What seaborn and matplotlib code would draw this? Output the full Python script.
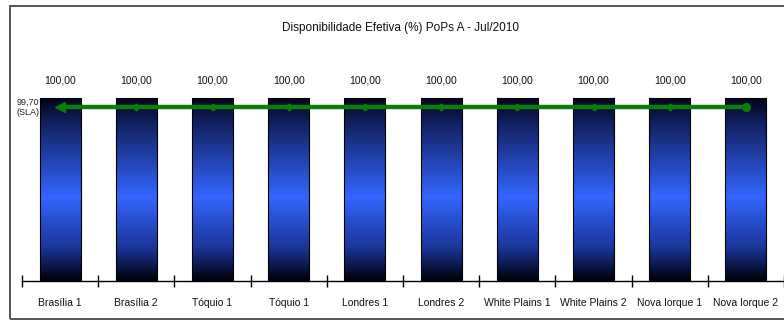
import numpy as np
import pandas as pd
import matplotlib
matplotlib.use("Agg")
import matplotlib.pyplot as plt
from matplotlib.colors import LinearSegmentedColormap
from matplotlib.patches import Rectangle
import seaborn as sns

# Availability per PoP (%) and SLA target
pops = ["Brasília 1", "Brasília 2", "Tóquio 1", "Tóquio 1", "Londres 1",
        "Londres 2", "White Plains 1", "White Plains 2", "Nova Iorque 1", "Nova Iorque 2"]
disponibilidade = [100.00, 100.00, 100.00, 100.00, 100.00,
                   100.00, 100.00, 100.00, 100.00, 100.00]
sla = [99.70] * len(pops)
titulo = "Disponibilidade Efetiva (%) PoPs A - Jul/2010"

sns.set_theme(style="white")
plt.rcParams["font.family"] = ["Liberation Sans", "DejaVu Sans"]

W, H, DPI = 784, 323, 100
fig = plt.figure(figsize=(W / DPI, H / DPI), dpi=DPI)
fig.patch.set_facecolor("white")

# outer chart frame
fig.add_artist(Rectangle((10 / W, 1 - 319 / H), 800 / W, 313 / H, transform=fig.transFigure,
                         fill=False, edgecolor="#555555", linewidth=1.4))

# plot area: x-axis at y=281 px, from x=22 px to the right edge
ax_left, ax_right = 22, 784
ax_top, ax_bot = 45, 281
ax = fig.add_axes([ax_left / W, 1 - ax_bot / H, (ax_right - ax_left) / W, (ax_bot - ax_top) / H])

df = pd.DataFrame({"pop": range(len(pops)), "disp": disponibilidade})
sns.barplot(data=df, x="pop", y="disp", ax=ax, width=0.54, color="#2a55dd",
            edgecolor="black", linewidth=0.8)

ymin = 94.0
step = 76.4  # px per category
ax.set_xlim(-0.5, -0.5 + (ax_right - ax_left) / step)
ax.set_ylim(ymin, 100 + (98 - ax_top) / (ax_bot - 98) * (100 - ymin))

# vertical gradient fill inside each bar: dark edges, bright blue centre
cmap = LinearSegmentedColormap.from_list(
    "barra", [(0.0, "#02041a"), (0.15, "#122466"), (0.54, "#3366ff"),
              (0.82, "#1a3597"), (1.0, "#000008")])
grad = np.linspace(0, 1, 256).reshape(-1, 1)
for patch in list(ax.patches):
    x0, y0 = patch.get_x(), patch.get_y()
    w, h = patch.get_width(), patch.get_height()
    im = ax.imshow(grad, cmap=cmap, aspect="auto", origin="upper",
                   extent=(x0, x0 + w, ymin, y0 + h), zorder=2)
    im.set_clip_path(patch)
    patch.set_facecolor("none")
    patch.set_zorder(3)

# SLA line
xs = np.arange(len(pops))
green = "#0b7d0b"
ax.plot(xs, sla, color=green, linewidth=3.2, zorder=4, solid_capstyle="butt")
ax.plot(xs[1:-1], sla[1:-1], linestyle="none", marker="D", markersize=3.5,
        color=green, zorder=5)
ax.plot(xs[0], sla[0], marker="<", markersize=7, color=green, zorder=5)
ax.plot(xs[-1], sla[-1], marker="o", markersize=5.5, color=green, zorder=5)

# value labels above bars
for i, v in enumerate(disponibilidade):
    ax.text(i, v + (100 - ymin) * 17 / 183, f"{v:.2f}".replace(".", ","),
            ha="center", va="center", fontsize=7.5, color="#111111")

ax.text(-0.27, sla[0], f"{sla[0]:.2f}".replace(".", ",") + "\n(SLA)",
        ha="right", va="center", fontsize=6.5, color="#222222", linespacing=1.15)

# axes styling: only the category axis line, ticks between categories
for s in ["top", "right", "left"]:
    ax.spines[s].set_visible(False)
ax.spines["bottom"].set_color("black")
ax.spines["bottom"].set_linewidth(1.0)
ax.set_yticks([])
ax.set_xticks(xs)
ax.set_xticklabels(pops, fontsize=7.5, color="#111111")
ax.set_xticks(np.arange(-0.5, len(pops), 1.0), minor=True)
ax.tick_params(axis="x", which="major", length=0, pad=12)
ax.tick_params(axis="x", which="minor", direction="inout", length=9, width=1.0,
               color="black", bottom=True)
ax.set_xlabel("")
ax.set_ylabel("")
ax.set_facecolor("white")

fig.text(400 / W, 1 - 28 / H, titulo, ha="center", va="center", fontsize=8.5, color="#111111")

fig.savefig("out.png", dpi=DPI)
